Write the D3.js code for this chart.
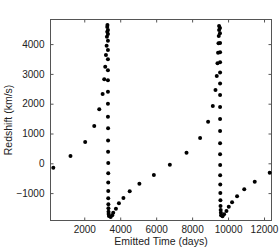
<!DOCTYPE html>
<html>
<head>
<meta charset="utf-8">
<script src="https://cdn.jsdelivr.net/npm/d3@7"></script>
<style>
  body { margin: 0; background: #fff; }
  text { font-family: "Liberation Sans", Arial, sans-serif; }
</style>
</head>
<body>
<div id="chart"></div>
<script>
// Emitted time (days) and redshift (km/s)
const emittedTime = [
  277, 1233, 2050, 2556, 2834, 3022, 3111, 3167, 3206, 3244, 3261, 3278, 3278, 3289,
  3317, 3317, 3317, 3317, 3317, 3317, 3317, 3317, 3317, 3317, 3325, 3325, 3325, 3333,
  3333, 3333, 3333, 3333, 3340, 3344, 3350, 3355, 3372,
  3467, 3556, 3611, 3761, 3928, 4178, 4528, 5067, 5872, 6761, 7689, 8444,
  8889, 9150, 9300, 9372, 9411, 9444, 9467, 9483, 9500, 9500,
  9550, 9550, 9556, 9556, 9556, 9556, 9556, 9556, 9556, 9556, 9556, 9556, 9556, 9560,
  9560, 9565, 9570, 9575, 9580, 9590, 9600, 9610,
  9689, 9778, 9911, 10039, 10222, 10500, 10900, 11483, 12317
];
const redshift = [
  -148, 245, 715, 1252, 1812, 2326, 2819, 3242, 3635, 3947, 4249, 4416, 4574, 4641,
  4475, 4339, 4114, 3802, 3490, 3121, 2785, 2403, 2000, 1564, 1175, 765, 389, 10,
  -336, -644, -930, -1175, -1376, -1510, -1624, -1701, -1769,
  -1802, -1745, -1658, -1524, -1342, -1164, -940, -685, -393, -47, 356, 849,
  1396, 1923, 2460, 2930, 3356, 3712, 4027, 4272, 4473, 4608,
  4540, 4360, 4040, 3730, 3390, 3050, 2680, 2290, 1890, 1490, 1080, 670, 300, -60,
  -400, -710, -1000, -1240, -1430, -1570, -1660, -1740,
  -1775, -1712, -1601, -1456, -1309, -1107, -873, -617, -315
];
const xTicks = [2000, 4000, 6000, 8000, 10000, 12000];
const yTicks = [-1000, 0, 1000, 2000, 3000, 4000];

const width = 280, height = 250;
const margin = {top: 19, right: 8, bottom: 29, left: 50};

let svg = d3.select('#chart')
    .append('svg')
    .attr('width', width)
    .attr('height', height);

const x = d3.scaleLinear()
    .domain([94, 12444])
    .range([margin.left, width - margin.right]);
const y = d3.scaleLinear()
    .domain([-1936, 4842])
    .range([height - margin.bottom, margin.top]);

const axisColor = '#555';
const textColor = '#222';
const fmt = d => d3.format('d')(d).replace('-', '\u2212');

// box round the plot
svg.append('rect')
    .attr('x', margin.left + 0.5)
    .attr('y', margin.top + 0.5)
    .attr('width', width - margin.left - margin.right - 1)
    .attr('height', height - margin.top - margin.bottom - 1)
    .attr('fill', 'none')
    .attr('stroke', axisColor);

// axes with inward ticks on all four sides
function styleAxis(g) {
    g.select('.domain').remove();
    g.selectAll('line').attr('stroke', axisColor);
    g.selectAll('text')
        .attr('fill', textColor)
        .style('font-size', '10px');
}

svg.append('g')
    .attr('transform', `translate(0,${height - margin.bottom - 0.5})`)
    .call(d3.axisBottom(x).tickValues(xTicks).tickSize(-3).tickPadding(5).tickFormat(fmt))
    .call(styleAxis);
svg.append('g')
    .attr('transform', `translate(0,${margin.top + 0.5})`)
    .call(d3.axisTop(x).tickValues(xTicks).tickSize(-3).tickFormat(''))
    .call(styleAxis);
svg.append('g')
    .attr('transform', `translate(${margin.left + 0.5},0)`)
    .call(d3.axisLeft(y).tickValues(yTicks).tickSize(-3).tickPadding(6).tickFormat(fmt))
    .call(styleAxis);
svg.append('g')
    .attr('transform', `translate(${width - margin.right - 0.5},0)`)
    .call(d3.axisRight(y).tickValues(yTicks).tickSize(-3).tickFormat(''))
    .call(styleAxis);

// axis titles
svg.append('text')
    .attr('x', (margin.left + width - margin.right) / 2)
    .attr('y', 245)
    .attr('text-anchor', 'middle')
    .attr('fill', textColor)
    .style('font-size', '10.5px')
    .text('Emitted Time (days)');
svg.append('text')
    .attr('transform', `translate(12,${(margin.top + height - margin.bottom) / 2}) rotate(-90)`)
    .attr('text-anchor', 'middle')
    .attr('fill', textColor)
    .style('font-size', '10.5px')
    .text('Redshift (km/s)');

// data points
svg.append('g')
    .selectAll('circle')
    .data(d3.range(emittedTime.length))
    .join('circle')
    .attr('cx', i => x(emittedTime[i]))
    .attr('cy', i => y(redshift[i]))
    .attr('r', 2)
    .attr('fill', '#000');
</script>
</body>
</html>
